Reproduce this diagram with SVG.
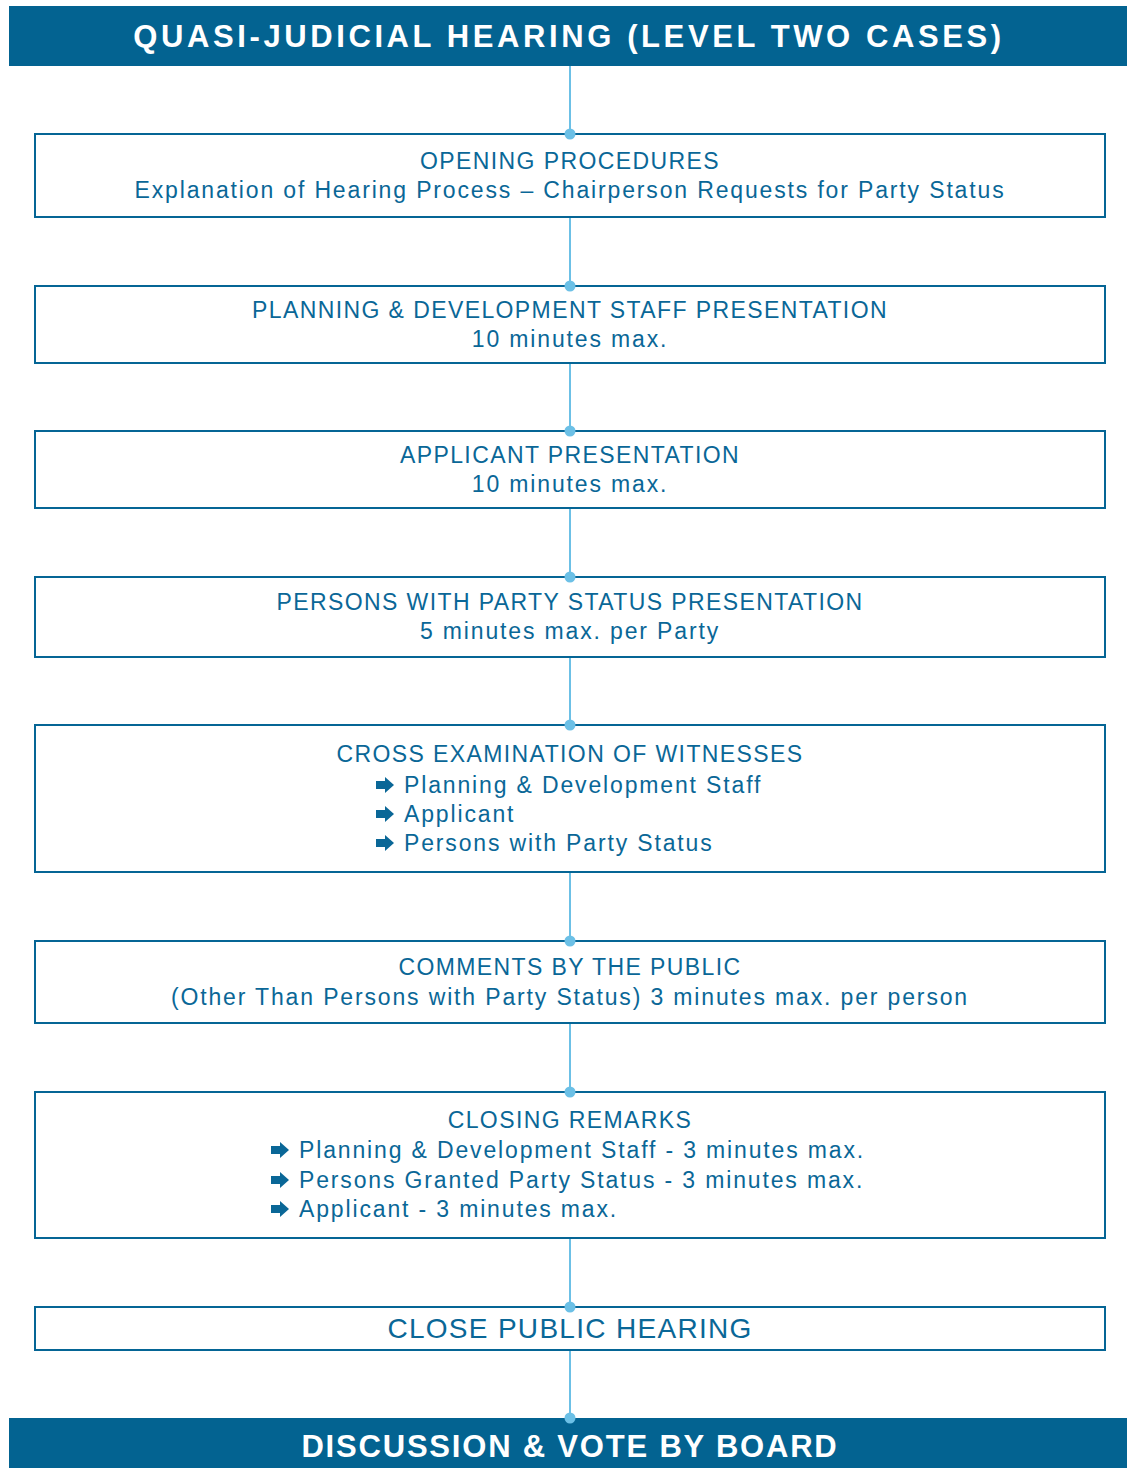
<svg xmlns="http://www.w3.org/2000/svg" width="1127" height="1468" viewBox="0 0 1127 1468">
<style>
.bar{fill:#036391}
.box{fill:#fff;stroke:#056595;stroke-width:2}
.t{font-family:"Liberation Sans",Arial,sans-serif;font-size:23px;fill:#0a6797;letter-spacing:1.4px;text-anchor:middle}
.m{letter-spacing:1.85px}
.b{text-anchor:start}
.h{font-family:"Liberation Sans",Arial,sans-serif;font-size:31px;font-weight:bold;fill:#fff;letter-spacing:3.6px;text-anchor:middle}
.f{letter-spacing:1.8px}
.big{font-size:28px;letter-spacing:1.3px}
.c{stroke:#6cc0e6;stroke-width:2;fill:none}
.d{fill:#6cc0e6}
</style>
<defs>
<path id="arr" d="M0,-4 H9 V-8 L18,0 L9,8 V4 H0 Z" fill="#0a6797"/>
</defs>
<g id="header">
<rect class="bar" x="9" y="6" width="1118" height="60"/>
<text class="h" x="569" y="47">QUASI-JUDICIAL HEARING (LEVEL TWO CASES)</text>
</g>
<g id="connectors">
<line class="c" x1="570" y1="66" x2="570" y2="1418"/>
</g>
<g id="opening">
<rect class="box" x="35" y="134" width="1070" height="83"/>
<text class="t" x="570" y="169">OPENING PROCEDURES</text>
<text class="t m" x="570" y="198">Explanation of Hearing Process – Chairperson Requests for Party Status</text>
</g>
<g id="staff">
<rect class="box" x="35" y="286" width="1070" height="77"/>
<text class="t" x="570" y="318">PLANNING &amp; DEVELOPMENT STAFF PRESENTATION</text>
<text class="t m" x="570" y="347">10 minutes max.</text>
</g>
<g id="applicant">
<rect class="box" x="35" y="431" width="1070" height="77"/>
<text class="t" x="570" y="463">APPLICANT PRESENTATION</text>
<text class="t m" x="570" y="492">10 minutes max.</text>
</g>
<g id="party">
<rect class="box" x="35" y="577" width="1070" height="80"/>
<text class="t" x="570" y="610">PERSONS WITH PARTY STATUS PRESENTATION</text>
<text class="t m" x="570" y="639">5 minutes max. per Party</text>
</g>
<g id="cross">
<rect class="box" x="35" y="725" width="1070" height="147"/>
<text class="t" x="570" y="762">CROSS EXAMINATION OF WITNESSES</text>
<use href="#arr" x="376" y="785"/>
<text class="t m b" x="404" y="793">Planning &amp; Development Staff</text>
<use href="#arr" x="376" y="814"/>
<text class="t m b" x="404" y="822">Applicant</text>
<use href="#arr" x="376" y="843"/>
<text class="t m b" x="404" y="851">Persons with Party Status</text>
</g>
<g id="public">
<rect class="box" x="35" y="941" width="1070" height="82"/>
<text class="t" x="570" y="975">COMMENTS BY THE PUBLIC</text>
<text class="t m" x="570" y="1005">(Other Than Persons with Party Status) 3 minutes max. per person</text>
</g>
<g id="closing">
<rect class="box" x="35" y="1092" width="1070" height="146"/>
<text class="t" x="570" y="1128">CLOSING REMARKS</text>
<use href="#arr" x="271" y="1150"/>
<text class="t m b" x="299" y="1158">Planning &amp; Development Staff - 3 minutes max.</text>
<use href="#arr" x="271" y="1180"/>
<text class="t m b" x="299" y="1188">Persons Granted Party Status - 3 minutes max.</text>
<use href="#arr" x="271" y="1209"/>
<text class="t m b" x="299" y="1217">Applicant - 3 minutes max.</text>
</g>
<g id="close">
<rect class="box" x="35" y="1307" width="1070" height="43"/>
<text class="t big" x="570" y="1338">CLOSE PUBLIC HEARING</text>
</g>
<g id="footer">
<rect class="bar" x="9" y="1418" width="1118" height="50"/>
<text class="h f" x="570" y="1457">DISCUSSION &amp; VOTE BY BOARD</text>
</g>
<g id="connector-dots">
<circle class="d" cx="570" cy="134" r="5.5"/>
<circle class="d" cx="570" cy="286" r="5.5"/>
<circle class="d" cx="570" cy="431" r="5.5"/>
<circle class="d" cx="570" cy="577" r="5.5"/>
<circle class="d" cx="570" cy="725" r="5.5"/>
<circle class="d" cx="570" cy="941" r="5.5"/>
<circle class="d" cx="570" cy="1092" r="5.5"/>
<circle class="d" cx="570" cy="1307" r="5.5"/>
<circle class="d" cx="570" cy="1418" r="5.5"/>
</g>
</svg>
